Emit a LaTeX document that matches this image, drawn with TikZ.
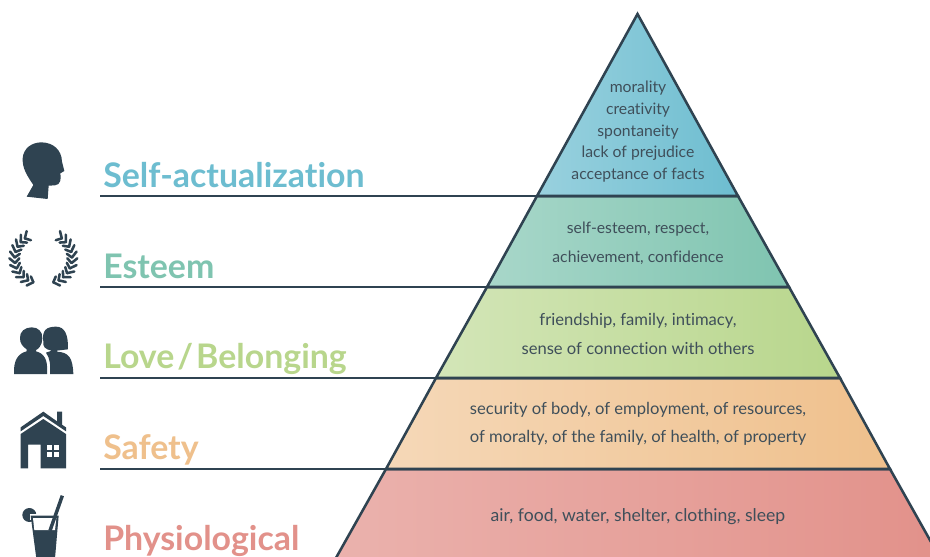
\documentclass[tikz,border=0pt]{standalone}
\usepackage{fontspec}
\usetikzlibrary{calc}
\setmainfont[Ligatures={NoCommon}]{Lato}
\definecolor{ink}{HTML}{2F4351}
\definecolor{txt}{HTML}{3F4F5A}
\definecolor{cteal}{HTML}{6DBDD0}
\definecolor{cgreen}{HTML}{7FC4B0}
\definecolor{clime}{HTML}{B8D68C}
\definecolor{corange}{HTML}{EFC08C}
\definecolor{cred}{HTML}{E2918A}
\tikzset{
  band/.style={draw=ink,line width=1.9pt,line join=miter},
  rule/.style={draw=ink,line width=1.6pt},
  head/.style={anchor=base west,font=\fontsize{25.4}{25.4}\selectfont\bfseries,inner sep=0pt},
  body/.style={anchor=base,font=\fontsize{11.8}{11.8}\selectfont,text=txt,inner sep=0pt},
  bodyc/.style={body,font=\fontsize{12.45}{12.45}\selectfont},
  bodyd/.style={body,font=\fontsize{13.2}{13.2}\selectfont},
  icon/.style={fill=ink,draw=none},
  leaf/.style={draw=ink,line width=1.9pt,line cap=round},
}
\begin{document}
\begin{tikzpicture}[x=0.75pt,y=-0.75pt]
\useasboundingbox (0,0) rectangle (930,556);
\clip (0,0) rectangle (930,556);
\fill[white] (0,0) rectangle (930,556);
% bands
\path[band,left color=cred!70!white,right color=cred] (386,469) -- (890,469) -- (944,565) -- (332,565) -- cycle;
\path[band,left color=corange!62!white,right color=corange] (436,378) -- (840,378) -- (890,469) -- (386,469) -- cycle;
\path[band,left color=clime!62!white,right color=clime] (487,287) -- (789,287) -- (840,378) -- (436,378) -- cycle;
\path[band,left color=cgreen!68!white,right color=cgreen] (537,196) -- (738,196) -- (789,287) -- (487,287) -- cycle;
\path[band,left color=cteal!70!white,right color=cteal] (637.5,14) -- (738,196) -- (537,196) -- cycle;
% rule lines
\coordinate (r1) at (100,196); \coordinate (e1) at (537,196);
\coordinate (r2) at (100,287); \coordinate (e2) at (487,287);
\coordinate (r3) at (100,378); \coordinate (e3) at (436,378);
\coordinate (r4) at (100,469); \coordinate (e4) at (386,469);
\draw[rule] (r1) -- (e1);
\draw[rule] (r2) -- (e2);
\draw[rule] (r3) -- (e3);
\draw[rule] (r4) -- (e4);
% headings
\node[head,text=cteal] (h1) at (103,187) {Self-actualization};
\node[head,text=cgreen] (h2) at (103,278) {Esteem};
\node[head,text=clime] (h3) at (103,368) {\spaceskip=0.09em Love / Belonging};
\node[head,text=corange] (h4) at (103,459) {Safety};
\node[head,text=cred] (h5) at (103,550) {Physiological};
% body text
\node[body] (t1) at (638,92.5) {morality};
\node[body] (t2) at (638,114.5) {creativity};
\node[body] (t3) at (638,136.5) {spontaneity};
\node[body] (t4) at (638,157.5) {lack of prejudice};
\node[body] (t5) at (638,179.5) {acceptance of facts};
\node[body] (t6) at (638,233) {self-esteem, respect,};
\node[body] (t7) at (638,262) {achievement, confidence};
\node[bodyc] (t8) at (638,325) {friendship, family, intimacy,};
\node[bodyc] (t9) at (638,354) {sense of connection with others};
\node[bodyc] (t10) at (638,414) {security of body, of employment, of resources,};
\node[bodyc] (t11) at (638,442) {of moralty, of the family, of health, of property};
\node[bodyd] (t12) at (638,521) {air, food, water, shelter, clothing, sleep};
% head icon
\begin{scope}[shift={(0,120)},scale=1/3]
\fill[icon] (80,230) -- (100,195) .. controls (80,165) and (67,145) .. (68,115)
  .. controls (70,85) and (95,67) .. (125,67) .. controls (160,68) and (185,90) .. (186,125)
  -- (193,153) -- (181,160) .. controls (184,175) and (182,195) .. (165,196)
  -- (146,197) -- (143,237) -- cycle;
% laurel
\foreach \a in {104,117,...,246}{
  \draw[leaf] ($(118,415)+(\a:74)$) -- ($(118,415)+(\a+11:90)$);
  \draw[leaf] ($(118,415)+(\a:74)$) -- ($(118,415)+(\a+11:60)$);
  \draw[leaf] ($(142,415)+(180-\a:74)$) -- ($(142,415)+(169-\a:90)$);
  \draw[leaf] ($(142,415)+(180-\a:74)$) -- ($(142,415)+(169-\a:60)$);
}
\end{scope}
% people
\begin{scope}[shift={(0,310)},scale=1/3]
\fill[icon] (130,95) .. controls (125,60) and (140,50) .. (168,50) .. controls (195,50) and (205,75) .. (204,118)
  -- (170,122) -- (172,125) .. controls (205,128) and (218,140) .. (220,192) -- (150,192)
  .. controls (152,165) and (150,145) .. (138,128) -- (155,122) .. controls (135,118) and (128,110) .. (130,95) -- cycle;
\fill[icon] (60,85) .. controls (58,65) and (75,52) .. (95,52) .. controls (115,52) and (128,65) .. (127,85)
  .. controls (127,105) and (115,118) .. (108,120) -- (108,124) .. controls (130,130) and (145,145) .. (141,192)
  -- (42,192) .. controls (40,150) and (55,130) .. (80,124) -- (80,118) .. controls (68,110) and (60,100) .. (60,85) -- cycle;
% house
\fill[icon] (62,352) -- (130,305) -- (171,334) -- (171,305) -- (186,305) -- (186,344) -- (198,352) -- (198,364) -- (130,318) -- (62,364) -- cycle;
\fill[icon] (130,327) -- (198,372) -- (198,475) -- (122,475) -- (122,404) -- (84,404) -- (84,475) -- (62,475) -- (62,372) -- cycle;
\fill[white] (140,405) rectangle (177,441);
\fill[icon] (156.5,405) rectangle (160.5,441);
\fill[icon] (140,421) rectangle (177,425);
% glass
\fill[icon] (88,615) circle (21);
\fill[white] (90,612) rectangle (178,630);
\fill[icon] (92,617) -- (176,617) -- (165,745) -- (109,745) -- cycle;
\fill[white] (99,624) -- (169,624) -- (165,660) -- (103,660) -- cycle;
\draw[ink,line width=2.6pt] (150,662) -- (187,557);
\end{scope}
\end{tikzpicture}
\end{document}
